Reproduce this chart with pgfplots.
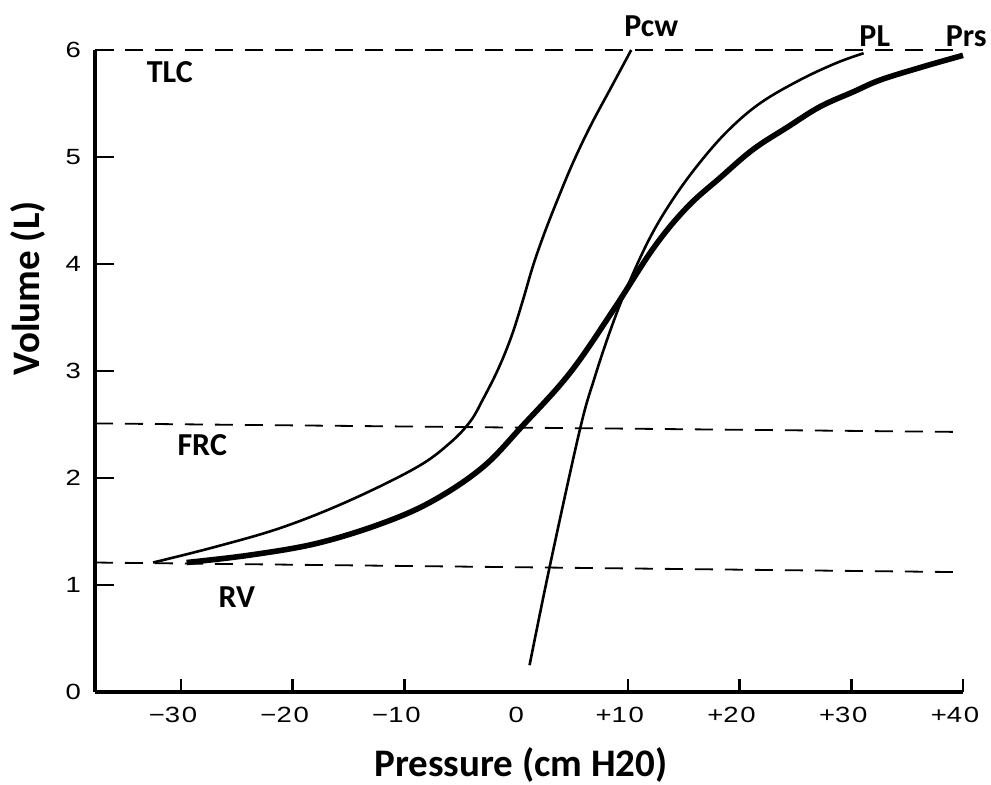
\documentclass[border=0pt]{standalone}
\usepackage{fontspec}
\setmainfont{Carlito}
\newfontfamily\tickfont[FakeStretch=1.25,LetterSpace=8]{Liberation Sans}
\usepackage{pgfplots}
\pgfplotsset{compat=1.18}
\begin{document}
\begin{tikzpicture}
\begin{axis}[
  at={(0,0)}, anchor=south west,
  scale only axis, width=434pt, height=321pt,
  xmin=-37.7, xmax=40, ymin=0, ymax=6,
  axis lines=left,
  axis line style={-, line width=2pt},
  xtick={-30,-20,-10,0,10,20,30,40},
  xticklabels={\llap{−}30,\llap{−}20,\llap{−}10,0,\llap{+}10,\llap{+}20,\llap{+}30,\llap{+}40},
  ytick={0,1,2,3,4,5,6}, yticklabels={0,1,2,3,4,5,6},
  major tick length=0pt,
  tick style={draw=none},
  xticklabel style={font=\tickfont\fontsize{11}{12}\selectfont, yshift=-4pt},
  yticklabel style={font=\tickfont\fontsize{11}{12}\selectfont, xshift=-3.5pt},
  xlabel={Pressure (cm H20)},
  ylabel={Volume (L)},
  xlabel style={font=\fontsize{19.5}{22}\selectfont\bfseries, inner sep=0pt, at={(axis description cs:0.4908,-0.1137)}, anchor=center},
  ylabel style={font=\fontsize{19.5}{22}\selectfont\bfseries, inner sep=0pt, at={(axis description cs:-0.0772,0.629)}, anchor=center, rotate=0},
  clip=false,
]
% tick marks, pointing inside (none at 0, as in the original)
\addplot[black, line width=1.3pt, forget plot] coordinates {(-30,0) (-30,0.12)};
\addplot[black, line width=1.3pt, forget plot] coordinates {(-20,0) (-20,0.12)};
\addplot[black, line width=1.3pt, forget plot] coordinates {(-10,0) (-10,0.12)};
\addplot[black, line width=1.3pt, forget plot] coordinates {(10,0) (10,0.12)};
\addplot[black, line width=1.3pt, forget plot] coordinates {(20,0) (20,0.12)};
\addplot[black, line width=1.3pt, forget plot] coordinates {(30,0) (30,0.12)};
\addplot[black, line width=1.3pt, forget plot] coordinates {(40,0) (40,0.12)};
\addplot[black, line width=1.3pt, forget plot] coordinates {(-37.7,1) (-36.0,1)};
\addplot[black, line width=1.3pt, forget plot] coordinates {(-37.7,2) (-36.0,2)};
\addplot[black, line width=1.3pt, forget plot] coordinates {(-37.7,3) (-36.0,3)};
\addplot[black, line width=1.3pt, forget plot] coordinates {(-37.7,4) (-36.0,4)};
\addplot[black, line width=1.3pt, forget plot] coordinates {(-37.7,5) (-36.0,5)};
\addplot[black, line width=1.3pt, forget plot] coordinates {(-37.7,6) (-36.0,6)};
% reference lines TLC, FRC, RV
\addplot[black, line width=0.9pt, dash pattern=on 9pt off 6pt] coordinates {(-37.7,6) (40,6)};
\addplot[black, line width=0.9pt, dash pattern=on 9pt off 6pt] coordinates {(-37.7,2.51) (40,2.43)};
\addplot[black, line width=0.9pt, dash pattern=on 9pt off 6pt] coordinates {(-37.7,1.21) (40,1.12)};
% Pcw
\addplot[black, line width=1.3pt, smooth, tension=0.6] coordinates {
(-32.5,1.21) (-26.8,1.36) (-20.9,1.54) (-14.9,1.79) (-8.9,2.10) (-5.9,2.33) (-4.1,2.53) (-3.0,2.73)
(-1.6,3.02) (-0.4,3.33) (0.6,3.66) (1.5,3.98) (2.5,4.28) (3.7,4.60) (5.1,4.95) (6.7,5.30) (8.5,5.65) (10.3,6.0)};
% PL
\addplot[black, line width=1.3pt, smooth, tension=0.6] coordinates {
(1.2,0.25) (3.0,1.17) (5.7,2.45) (7.0,2.93) (8.5,3.40) (10.0,3.80) (12.0,4.25) (14.0,4.60) (16.3,4.93)
(18.9,5.24) (21.8,5.50) (25.4,5.72) (28.7,5.88) (31.1,5.97)};
% Prs
\addplot[black, line width=2.8pt, smooth, tension=0.6] coordinates {
(-29.5,1.21) (-23.8,1.28) (-17.8,1.39) (-11.9,1.58) (-7.4,1.79) (-3.0,2.10) (0.5,2.48)
(4.8,2.98) (8.7,3.57) (12.3,4.15) (15.3,4.53) (18.3,4.81) (21.2,5.07) (24.3,5.28) (27.2,5.47)
(30.2,5.61) (32.6,5.72) (36.3,5.84) (40.0,5.95)};
% labels
\node[font=\fontsize{16}{18}\selectfont\bfseries] at (axis cs:-31,5.79) {TLC};
\node[font=\fontsize{16}{18}\selectfont\bfseries] at (axis cs:-28.1,2.31) {FRC};
\node[font=\fontsize{16}{18}\selectfont\bfseries] at (axis cs:-25.0,0.885) {RV};
\node[font=\fontsize{16}{18}\selectfont\bfseries] at (axis cs:12.1,6.22) {Pcw};
\node[font=\fontsize{16}{18}\selectfont\bfseries] at (axis cs:32.1,6.13) {PL};
\node[font=\fontsize{16}{18}\selectfont\bfseries] at (axis cs:40.3,6.13) {Prs};
\end{axis}
\pgfresetboundingbox
\path[use as bounding box] (-47.5pt,-46.5pt) rectangle (448pt,346pt);
\end{tikzpicture}
\end{document}
